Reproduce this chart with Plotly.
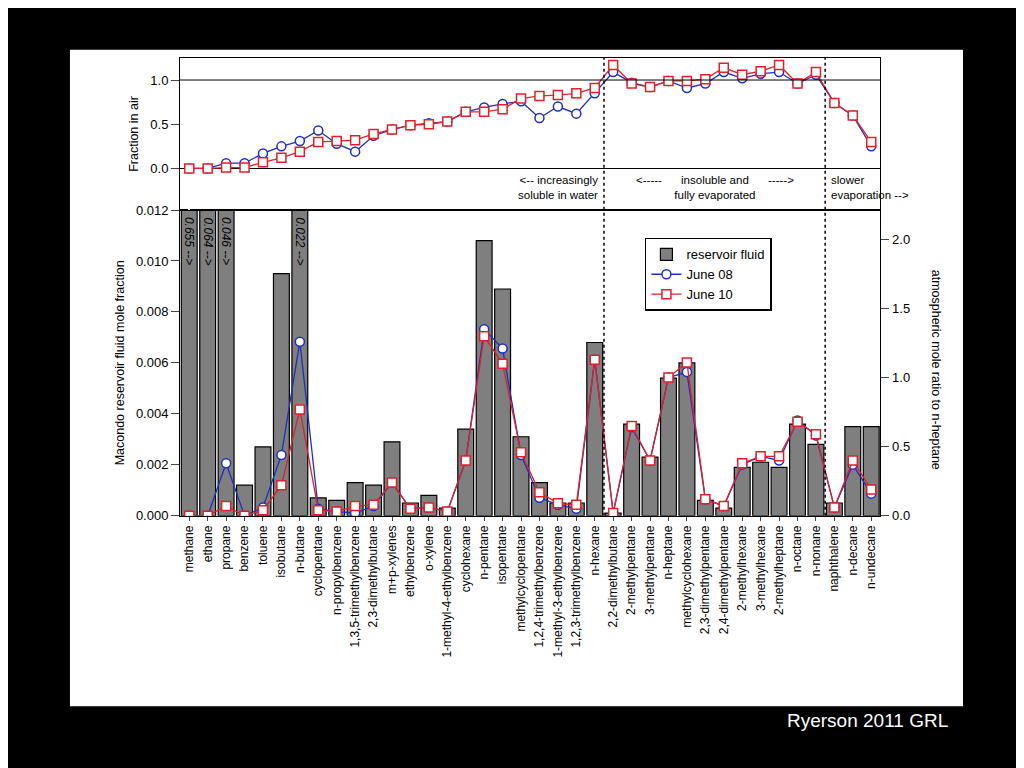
import plotly.graph_objects as go

compounds = ["methane", "ethane", "propane", "benzene", "toluene", "isobutane", "n-butane",
             "cyclopentane", "n-propylbenzene", "1,3,5-trimethylbenzene", "2,3-dimethylbutane",
             "m+p-xylenes", "ethylbenzene", "o-xylene", "1-methyl-4-ethylbenzene", "cyclohexane",
             "n-pentane", "isopentane", "methylcyclopentane", "1,2,4-trimethylbenzene",
             "1-methyl-3-ethylbenzene", "1,2,3-trimethylbenzene", "n-hexane", "2,2-dimethylbutane",
             "2-methylpentane", "3-methylpentane", "n-heptane", "methylcyclohexane",
             "2,3-dimethylpentane", "2,4-dimethylpentane", "2-methylhexane", "3-methylhexane",
             "2-methylheptane", "n-octane", "n-nonane", "naphthalene", "n-decane", "n-undecane"]

# reservoir fluid mole fraction
reservoir = [0.655, 0.064, 0.046, 0.0012, 0.0027, 0.0095, 0.022, 0.0007, 0.0006, 0.0013, 0.0012,
             0.0029, 0.0005, 0.0008, 0.0003, 0.0034, 0.0108, 0.0089, 0.0031, 0.0013, 0.0005, 0.0005,
             0.0068, 0.0001, 0.0036, 0.0023, 0.0054, 0.0060, 0.0006, 0.0003, 0.0019, 0.0021,
             0.0019, 0.0036, 0.0028, 0.0005, 0.0035, 0.0035]

# atmospheric mole ratio to n-heptane
ratio_jun08 = [0, 0, 0.38, 0, 0.06, 0.44, 1.26, 0.05, 0.03, 0.02, 0.07, 0.24, 0.05, 0.06, 0.03,
               0.40, 1.35, 1.21, 0.44, 0.13, 0.08, 0.05, 1.13, 0.02, 0.64, 0.40, 1.0, 1.04, 0.12,
               0.07, 0.37, 0.43, 0.40, 0.69, 0.58, 0.06, 0.37, 0.16]
ratio_jun10 = [0, 0, 0.07, 0, 0.04, 0.22, 0.77, 0.04, 0.03, 0.07, 0.08, 0.24, 0.05, 0.06, 0.03,
               0.40, 1.30, 1.10, 0.46, 0.17, 0.09, 0.08, 1.13, 0.02, 0.65, 0.40, 1.0, 1.11, 0.12,
               0.07, 0.38, 0.43, 0.43, 0.68, 0.59, 0.06, 0.40, 0.19]

# fraction in air
frac_jun08 = [0, 0, 0.06, 0.06, 0.17, 0.25, 0.31, 0.43, 0.28, 0.19, 0.37, 0.44, 0.49, 0.51, 0.53,
              0.64, 0.69, 0.73, 0.76, 0.57, 0.70, 0.62, 0.85, 1.09, 0.97, 0.92, 0.99, 0.91, 0.96,
              1.09, 1.02, 1.07, 1.09, 0.96, 1.06, 0.74, 0.60, 0.25]
frac_jun10 = [0, 0, 0.01, 0.01, 0.07, 0.12, 0.19, 0.30, 0.31, 0.32, 0.39, 0.44, 0.49, 0.50, 0.53,
              0.64, 0.64, 0.67, 0.79, 0.82, 0.83, 0.85, 0.91, 1.17, 0.96, 0.92, 0.99, 0.99, 1.01,
              1.14, 1.06, 1.10, 1.17, 0.96, 1.09, 0.74, 0.60, 0.30]

clipped_labels = {0: "0.655 -->", 1: "0.064 -->", 2: "0.046 -->", 6: "0.022 -->"}

idx = list(range(len(compounds)))
blue = "#1f2fbf"
red = "#e0202a"
font = "Liberation Sans"

fig = go.Figure()
fig.add_trace(go.Bar(x=idx, y=reservoir, name="reservoir fluid", marker_color="#7f7f7f",
                     marker_line=dict(color="black", width=1.2), width=0.86, xaxis="x", yaxis="y"))
fig.add_trace(go.Scatter(x=idx, y=ratio_jun08, name="June 08", mode="lines+markers",
                         line=dict(color=blue, width=1.3),
                         marker=dict(symbol="circle", size=9, color="white", line=dict(color=blue, width=1.5)),
                         xaxis="x", yaxis="y3"))
fig.add_trace(go.Scatter(x=idx, y=ratio_jun10, name="June 10", mode="lines+markers",
                         line=dict(color=red, width=1.3),
                         marker=dict(symbol="square", size=9, color="white", line=dict(color=red, width=1.5)),
                         xaxis="x", yaxis="y3"))
fig.add_trace(go.Scatter(x=idx, y=frac_jun08, mode="lines+markers", showlegend=False,
                         line=dict(color=blue, width=1.3),
                         marker=dict(symbol="circle", size=9, color="white", line=dict(color=blue, width=1.5)),
                         xaxis="x2", yaxis="y2"))
fig.add_trace(go.Scatter(x=idx, y=frac_jun10, mode="lines+markers", showlegend=False,
                         line=dict(color=red, width=1.3),
                         marker=dict(symbol="square", size=9, color="white", line=dict(color=red, width=1.5)),
                         xaxis="x2", yaxis="y2"))

dom_x = [0.168, 0.852]
bot = [0.335, 0.741]
top = [0.741, 0.943]
fig.update_layout(
    width=1024, height=768, margin=dict(l=0, r=0, t=0, b=0),
    paper_bgcolor="black", plot_bgcolor="white",
    font=dict(family=font, size=12, color="black"),
    xaxis=dict(domain=dom_x, range=[-0.5, 37.5], tickvals=idx, ticktext=compounds, tickangle=-90,
               tickfont=dict(size=12), ticks="outside", ticklen=4, showgrid=False,
               showline=True, linecolor="black", mirror=True, anchor="y"),
    xaxis2=dict(domain=dom_x, range=[-0.5, 37.5], showticklabels=False, showgrid=False,
                showline=True, linecolor="black", mirror=True, anchor="y2", matches="x"),
    yaxis=dict(domain=bot, range=[0, 0.012], dtick=0.002, tickformat=".3f",
               ticks="outside", ticklen=8, showgrid=False, zeroline=False,
               showline=True, linecolor="black", tickfont=dict(size=13),
               title=dict(text="Macondo reservoir fluid mole fraction", font=dict(size=12.5), standoff=8)),
    yaxis3=dict(overlaying="y", side="right", range=[0, 2.213], dtick=0.5, tickformat=".1f",
                ticks="outside", ticklen=8, showgrid=False, zeroline=False, anchor="x",
                showline=True, linecolor="black", tickfont=dict(size=13)),
    yaxis2=dict(domain=top, range=[-0.47, 1.25], tickvals=[0, 0.5, 1.0],
                tickformat=".1f", ticks="outside", ticklen=8, showgrid=False,
                zeroline=True, zerolinecolor="black", zerolinewidth=1,
                showline=True, linecolor="black", mirror=True, tickfont=dict(size=13), anchor="x2",
                title=dict(text="Fraction in air", font=dict(size=12.5), standoff=8)),
    legend=dict(x=0.622, y=0.704, xanchor="left", yanchor="top", bgcolor="white",
                bordercolor="black", borderwidth=1.5, font=dict(size=13), tracegroupgap=0),
    showlegend=True,
)

# white figure panel behind everything
fig.add_shape(type="rect", xref="paper", yref="paper", x0=0.0605, x1=0.9326, y0=0.082, y1=0.954,
              fillcolor="white", line=dict(width=0), layer="below")
fig.add_hline(y=1.0, line=dict(color="black", width=1), xref="x2", yref="y2")

# region separators
for xs in [22.5, 34.5]:
    fig.add_shape(type="line", xref="x", yref="paper", x0=xs, x1=xs, y0=bot[0], y1=top[1],
                  line=dict(color="black", width=1.5, dash="dot"))

for xa, txt, anc in [(22.3, "<-- increasingly<br>soluble in water", "right"),
                     (28.5, "<-----      insoluble and      -----><br>fully evaporated", "center"),
                     (34.7, "slower<br>evaporation -->", "left")]:
    fig.add_annotation(x=xa, y=-0.22, xref="x2", yref="y2", text=txt, showarrow=False,
                       xanchor=anc, align="left" if anc == "left" else ("right" if anc == "right" else "center"),
                       font=dict(size=11.5))

for i, txt in clipped_labels.items():
    fig.add_annotation(x=i, y=0.0118, xref="x", yref="y", text="<i>" + txt + "</i>", showarrow=False,
                       textangle=90, yanchor="top", font=dict(size=12))

fig.add_annotation(x=0.915, y=0.529, xref="paper", yref="paper", text="atmospheric mole ratio to n-heptane",
                   textangle=90, showarrow=False, font=dict(size=12.5))
fig.add_annotation(x=0.92, y=0.047, xref="paper", yref="paper", text="Ryerson 2011 GRL",
                   showarrow=False, xanchor="right", font=dict(size=19, color="white"))

fig.write_html("out.html")
